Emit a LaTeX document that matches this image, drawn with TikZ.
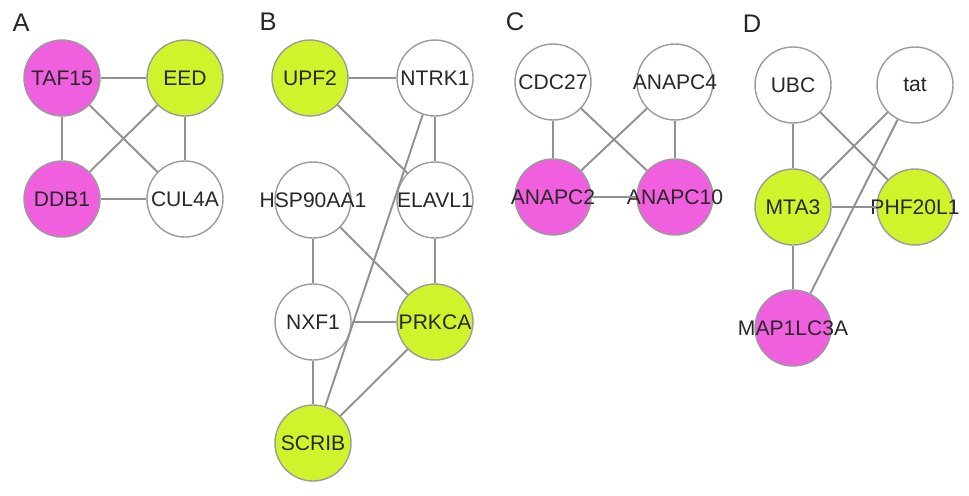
\documentclass[tikz,border=0pt]{standalone}
\usepackage{fontspec}
\setmainfont{Liberation Sans}
\usepackage{tikz}
\definecolor{hitpink}{RGB}{240,96,222}
\definecolor{hitlime}{RGB}{208,244,44}
\definecolor{rimgray}{RGB}{155,155,155}
\definecolor{linkgray}{RGB}{145,145,145}
\definecolor{inkgray}{RGB}{40,40,40}
\begin{document}
\begin{tikzpicture}[x=0.02cm,y=-0.02cm,
  gene/.style={circle,draw=rimgray,line width=0.8pt,fill=white,minimum size=1.52cm,inner sep=0pt,
    label={[text=inkgray,font=\fontsize{12}{14}\selectfont,inner sep=0pt]center:#1}},
  link/.style={draw=linkgray,line width=1.1pt},
  panel/.style={font=\fontsize{14.5}{16}\selectfont,text=black!85,inner sep=0pt}]
\useasboundingbox (0,0) rectangle (969,495);
% A
\node[panel] (labA) at (21,23) {A};
\node[gene=TAF15,fill=hitpink] (taf) at (62,78) {};
\node[gene=EED,fill=hitlime] (eed) at (185,78) {};
\node[gene=DDB1,fill=hitpink] (ddb) at (62,199) {};
\node[gene=CUL4A] (cul) at (185,199) {};
\draw[link] (taf) -- (eed);
\draw[link] (taf) -- (ddb);
\draw[link] (taf) -- (cul);
\draw[link] (eed) -- (ddb);
\draw[link] (eed) -- (cul);
\draw[link] (ddb) -- (cul);
% B
\node[panel] (labB) at (268,22) {B};
\node[gene=UPF2,fill=hitlime] (upf) at (310,78) {};
\node[gene=NTRK1] (ntrk) at (435,78) {};
\node[gene=HSP90AA1] (hsp) at (313,200) {};
\node[gene=ELAVL1] (elav) at (435,200) {};
\node[gene=NXF1] (nxf) at (313,322) {};
\node[gene=PRKCA,fill=hitlime] (prkc) at (435,322) {};
\node[gene=SCRIB,fill=hitlime] (scrib) at (313,443) {};
\draw[link] (upf) -- (ntrk);
\draw[link] (upf) -- (elav);
\draw[link] (ntrk) -- (elav);
\draw[link] (ntrk) -- (scrib);
\draw[link] (hsp) -- (nxf);
\draw[link] (hsp) -- (prkc);
\draw[link] (elav) -- (prkc);
\draw[link] (nxf) -- (prkc);
\draw[link] (nxf) -- (scrib);
\draw[link] (prkc) -- (scrib);
% C
\node[panel] (labC) at (515,22) {C};
\node[gene=CDC27] (cdc) at (553,82) {};
\node[gene=ANAPC4] (apc4) at (675,82) {};
\node[gene=ANAPC2,fill=hitpink] (apc2) at (553,197) {};
\node[gene=ANAPC10,fill=hitpink] (apc10) at (675,197) {};
\draw[link] (cdc) -- (apc2);
\draw[link] (cdc) -- (apc10);
\draw[link] (apc4) -- (apc2);
\draw[link] (apc4) -- (apc10);
\draw[link] (apc2) -- (apc10);
% D
\node[panel] (labD) at (752,24) {D};
\node[gene=UBC] (ubc) at (793,85) {};
\node[gene=tat] (tat) at (915,85) {};
\node[gene=MTA3,fill=hitlime] (mta) at (793,207) {};
\node[gene=PHF20L1,fill=hitlime] (phf) at (915,207) {};
\node[gene=MAP1LC3A,fill=hitpink] (map) at (793,328) {};
\draw[link] (ubc) -- (mta);
\draw[link] (ubc) -- (phf);
\draw[link] (tat) -- (mta);
\draw[link] (tat) -- (map);
\draw[link] (mta) -- (phf);
\draw[link] (mta) -- (map);
\end{tikzpicture}
\end{document}
